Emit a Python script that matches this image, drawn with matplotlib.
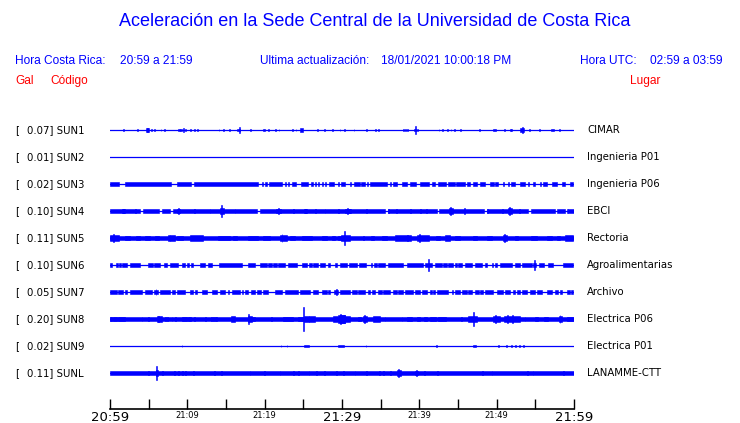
import matplotlib.pyplot as plt
from matplotlib.transforms import blended_transform_factory

# estaciones (de arriba hacia abajo)
codes = ['SUN1', 'SUN2', 'SUN3', 'SUN4', 'SUN5', 'SUN6', 'SUN7', 'SUN8', 'SUN9', 'SUNL']
peaks = [0.07, 0.01, 0.02, 0.10, 0.11, 0.10, 0.05, 0.20, 0.02, 0.11]
places = ['CIMAR', 'Ingenieria P01', 'Ingenieria P06', 'EBCI', 'Rectoria',
          'Agroalimentarias', 'Archivo', 'Electrica P06', 'Electrica P01', 'LANAMME-CTT']

# envolventes: (min inicio, min fin, amplitud Gal); minutos desde 20:59
sun1 = [(1.65, 1.8, 0.012), (3.5, 3.65, 0.012), (4.6, 5.0, 0.025), (4.78, 4.9, 0.035), (5.35, 5.45, 0.012),
        (5.75, 5.85, 0.012), (6.55, 6.65, 0.012), (6.95, 7.05, 0.012), (8.85, 9.0, 0.015), (9.1, 9.25, 0.015),
        (9.45, 9.55, 0.035), (9.72, 9.82, 0.012), (10.4, 10.5, 0.012), (10.9, 11.05, 0.015), (11.3, 11.4, 0.012),
        (14.05, 14.15, 0.012), (14.6, 14.7, 0.012), (15.4, 15.5, 0.01), (16.4, 16.8, 0.02), (16.68, 16.78, 0.05),
        (18.1, 18.25, 0.015), (19.8, 20.1, 0.022), (20.45, 20.55, 0.012), (21.4, 21.5, 0.012), (21.8, 21.9, 0.012),
        (23.55, 23.65, 0.012), (24.0, 24.1, 0.012), (24.6, 25.0, 0.03), (26.8, 26.9, 0.012), (27.7, 27.8, 0.012),
        (28.75, 28.85, 0.012), (29.7, 29.8, 0.012), (30.25, 30.35, 0.012), (31.5, 31.6, 0.01), (33.15, 33.25, 0.012),
        (34.3, 34.4, 0.015), (34.65, 34.75, 0.01), (37.9, 38.0, 0.015), (38.15, 38.25, 0.015), (38.45, 38.55, 0.015),
        (39.3, 39.6, 0.02), (39.45, 39.55, 0.07), (39.7, 39.8, 0.015), (42.5, 42.6, 0.012), (42.95, 43.05, 0.012),
        (43.55, 43.65, 0.012), (44.05, 44.15, 0.012), (44.5, 44.6, 0.01), (45.3, 45.4, 0.01), (47.7, 47.8, 0.01),
        (49.55, 49.85, 0.022), (50.95, 51.05, 0.012), (51.7, 51.8, 0.012), (51.9, 52.0, 0.015), (53.0, 53.5, 0.025),
        (53.25, 53.35, 0.045), (54.2, 54.3, 0.012), (55.5, 55.6, 0.01), (57.0, 57.35, 0.022), (58.05, 58.15, 0.015)]

sun2 = []

sun3 = [(0, 1.2, 0.026), (2.0, 7.9, 0.026), (8.7, 10.5, 0.026), (10.8, 19.2, 0.026), (19.6, 19.8, 0.026),
        (20.1, 20.3, 0.026), (20.5, 22.2, 0.026), (22.6, 22.8, 0.026), (23.0, 23.2, 0.026), (23.5, 24.1, 0.026),
        (24.7, 25.6, 0.026), (26.0, 26.2, 0.026), (26.5, 26.6, 0.026), (26.9, 27.0, 0.026), (27.4, 27.5, 0.026),
        (27.8, 27.9, 0.026), (28.3, 29.0, 0.026), (29.5, 29.6, 0.026), (29.9, 30.4, 0.026), (31.0, 31.1, 0.026),
        (31.5, 32.3, 0.026), (32.5, 33.0, 0.026), (33.2, 33.3, 0.026), (33.6, 35.8, 0.026), (36.2, 36.3, 0.026),
        (36.6, 37.1, 0.026), (37.7, 38.4, 0.026), (38.8, 39.6, 0.026), (40.1, 41.2, 0.026), (41.7, 42.0, 0.026),
        (42.4, 43.5, 0.026), (43.7, 44.6, 0.026), (44.8, 45.9, 0.026), (46.1, 46.5, 0.026), (47.0, 47.4, 0.026),
        (47.8, 48.5, 0.026), (49.1, 49.6, 0.026), (49.8, 50.2, 0.026), (50.8, 50.9, 0.026), (51.5, 51.6, 0.026),
        (51.9, 52.4, 0.026), (53.0, 53.7, 0.026), (54.1, 54.2, 0.026), (54.7, 55.0, 0.026), (55.6, 55.7, 0.026),
        (56.0, 56.5, 0.026), (57.1, 57.8, 0.026), (58.4, 58.8, 0.026), (59.5, 59.9, 0.026)]

sun4 = [(0, 3.9, 0.03), (4.3, 6.4, 0.03), (6.7, 7.7, 0.03), (8.1, 19.0, 0.03), (19.4, 35.6, 0.03),
        (35.9, 42.3, 0.03), (42.6, 48.3, 0.03), (48.7, 54.0, 0.03), (54.4, 57.5, 0.03), (57.8, 58.9, 0.03),
        (59.2, 60, 0.03),
        (1.5, 2.0, 0.036), (8.6, 9.1, 0.04), (14.2, 14.7, 0.045), (21.5, 22.1, 0.04), (25.1, 25.5, 0.036),
        (30.4, 31.2, 0.04), (43.8, 44.3, 0.045), (51.5, 52.0, 0.045),
        (1.66, 1.78, 0.038), (3.26, 3.38, 0.036), (8.78, 8.9, 0.046), (10.85, 10.97, 0.034), (12.87, 12.99, 0.034),
        (14.34, 14.46, 0.10), (16.1, 16.22, 0.033), (21.71, 21.83, 0.05), (23.65, 23.77, 0.04), (25.24, 25.36, 0.038),
        (26.53, 26.65, 0.036), (27.74, 27.86, 0.034), (29.47, 29.59, 0.034), (30.64, 30.76, 0.05), (30.94, 31.06, 0.04),
        (33.13, 33.25, 0.033), (35.94, 36.06, 0.033), (36.94, 37.06, 0.04), (38.84, 38.96, 0.034), (40.04, 40.16, 0.033),
        (40.84, 40.96, 0.033), (43.94, 44.06, 0.06), (45.84, 45.96, 0.05), (48.74, 48.86, 0.033), (50.64, 50.76, 0.034),
        (51.64, 51.76, 0.065), (52.94, 53.06, 0.034), (59.04, 59.16, 0.033)]

sun5 = [(0, 60, 0.033),
        (0, 1.1, 0.048), (0.4, 0.5, 0.06), (1.9, 2.6, 0.04), (3.4, 3.9, 0.04), (4.5, 5.2, 0.04),
        (5.8, 6.3, 0.04), (7.5, 8.4, 0.044), (7.7, 7.8, 0.055), (8.6, 9.5, 0.04), (10.3, 12.0, 0.042),
        (14.0, 15.5, 0.04), (15.95, 16.4, 0.04), (17.9, 19.2, 0.04), (19.8, 20.7, 0.04), (22.0, 22.85, 0.048),
        (22.2, 22.3, 0.07), (23.3, 23.9, 0.04), (24.8, 26.1, 0.04), (27.4, 28.0, 0.04), (28.7, 29.1, 0.04),
        (29.5, 30.4, 0.04), (29.9, 31.0, 0.044), (30.25, 30.4, 0.11), (32.7, 32.9, 0.04), (33.8, 34.2, 0.04),
        (35.2, 35.8, 0.04), (36.9, 38.9, 0.044), (38.4, 38.5, 0.055), (39.65, 41.2, 0.044), (40.0, 40.1, 0.06),
        (42.2, 42.7, 0.04), (43.3, 44.0, 0.044), (44.6, 45.3, 0.04), (47.0, 47.4, 0.04), (48.7, 49.4, 0.04),
        (50.8, 51.3, 0.044), (51.0, 51.1, 0.06), (52.4, 52.8, 0.04), (54.5, 55.2, 0.04), (56.5, 57.1, 0.04),
        (57.75, 58.2, 0.04), (58.8, 59.9, 0.042)]

sun6 = [(0, 0.22, 0.025), (0.73, 0.99, 0.025), (1.16, 1.42, 0.025), (1.59, 2.15, 0.03), (2.59, 3.88, 0.025),
        (4.96, 5.60, 0.025), (5.73, 6.47, 0.025), (7.03, 7.33, 0.035), (7.76, 8.84, 0.025), (9.35, 9.70, 0.025),
        (9.91, 10.22, 0.025), (10.47, 10.78, 0.025), (11.64, 12.29, 0.04), (12.72, 13.15, 0.025),
        (14.10, 17.03, 0.025), (17.89, 18.75, 0.025), (19.40, 20.26, 0.025), (20.48, 20.91, 0.025),
        (21.12, 21.55, 0.025), (21.77, 22.63, 0.032), (23.06, 24.14, 0.025), (24.78, 25.43, 0.025),
        (25.73, 26.07, 0.025), (26.29, 26.94, 0.025), (27.16, 27.80, 0.025), (28.23, 28.45, 0.025),
        (29.1, 29.3, 0.025), (29.74, 30.60, 0.025), (30.91, 31.90, 0.025), (32.20, 33.10, 0.025),
        (33.80, 33.90, 0.025), (34.18, 34.48, 0.025), (34.70, 35.56, 0.032), (35.99, 37.93, 0.025),
        (38.36, 40.51, 0.025), (40.73, 41.59, 0.037), (41.1, 41.2, 0.10), (42.02, 42.89, 0.025),
        (43.10, 43.53, 0.025), (43.75, 44.40, 0.025), (44.61, 44.83, 0.025), (45.04, 45.47, 0.025),
        (45.90, 46.77, 0.025), (47.20, 48.06, 0.025), (48.49, 48.71, 0.025), (49.35, 49.57, 0.025),
        (49.78, 50.00, 0.025), (50.43, 51.94, 0.025), (52.37, 53.02, 0.025), (53.23, 54.53, 0.025),
        (54.74, 55.09, 0.032), (54.82, 54.92, 0.085), (55.52, 56.12, 0.025), (56.68, 57.33, 0.025),
        (58.62, 59.91, 0.025)]

sun7 = [(0, 0.86, 0.03), (1.08, 1.72, 0.025), (1.94, 2.15, 0.025), (2.59, 4.09, 0.025), (4.53, 5.39, 0.025),
        (5.73, 6.25, 0.025), (5.9, 6.0, 0.045), (6.47, 7.76, 0.025), (7.97, 8.41, 0.025), (8.62, 9.70, 0.025),
        (10.35, 10.78, 0.03), (10.99, 11.21, 0.025), (11.85, 12.5, 0.033), (13.15, 13.79, 0.025),
        (14.22, 14.87, 0.03), (15.2, 15.4, 0.025), (15.73, 16.81, 0.025), (17.03, 17.24, 0.025),
        (17.46, 17.89, 0.025), (18.23, 18.75, 0.025), (18.97, 19.53, 0.025), (19.83, 20.48, 0.025),
        (21.34, 22.20, 0.035), (22.63, 24.35, 0.025), (24.57, 25.86, 0.025), (26.29, 26.94, 0.03),
        (27.37, 28.02, 0.025), (28.23, 28.45, 0.025), (29.0, 29.44, 0.03), (29.2, 29.3, 0.05),
        (29.74, 31.03, 0.025), (31.25, 31.90, 0.025), (32.1, 32.97, 0.025), (33.4, 33.6, 0.025),
        (33.84, 34.26, 0.025), (34.70, 35.13, 0.025), (35.34, 36.20, 0.025), (36.63, 37.06, 0.025),
        (37.28, 37.93, 0.025), (38.15, 39.22, 0.025), (39.44, 40.08, 0.025), (40.30, 41.03, 0.025),
        (41.38, 41.59, 0.025), (41.81, 42.02, 0.025), (42.24, 43.75, 0.025), (44.18, 44.40, 0.025),
        (44.61, 45.26, 0.025), (45.47, 46.12, 0.025), (46.34, 46.77, 0.025), (47.20, 47.76, 0.025),
        (47.85, 48.28, 0.025), (48.49, 49.57, 0.025), (50.00, 50.86, 0.025), (51.08, 51.72, 0.025),
        (52.15, 52.37, 0.025), (52.58, 53.02, 0.025), (53.23, 53.88, 0.025), (54.31, 54.96, 0.025),
        (55.17, 55.82, 0.025), (56.47, 57.11, 0.025), (57.54, 57.97, 0.025), (58.19, 58.49, 0.025),
        (59.05, 59.48, 0.025), (59.61, 59.91, 0.025)]

sun8 = [(0, 60, 0.03),
        (0, 0.3, 0.038), (0.4, 0.86, 0.034), (1.08, 1.94, 0.038), (4.1, 4.2, 0.034), (4.96, 5.06, 0.034),
        (6.03, 6.68, 0.05), (6.2, 6.3, 0.056), (7.1, 7.2, 0.034), (7.33, 7.55, 0.034), (7.97, 8.07, 0.034),
        (8.41, 8.5, 0.034), (9.27, 9.91, 0.036), (10.13, 10.47, 0.034), (10.91, 11.0, 0.034), (12.29, 12.39, 0.034),
        (13.06, 13.16, 0.034), (13.36, 13.46, 0.034), (13.58, 13.79, 0.034), (15.64, 16.16, 0.05),
        (17.80, 18.32, 0.05), (17.9, 18.0, 0.077), (18.32, 18.75, 0.038), (20.8, 20.9, 0.034), (22.4, 23.7, 0.038),
        (24.35, 25.0, 0.038), (25.0, 25.12, 0.20), (25.1, 25.7, 0.055), (25.7, 26.5, 0.042), (28.9, 29.5, 0.045),
        (29.5, 30.4, 0.06), (29.8, 29.9, 0.08), (29.74, 30.4, 0.07), (30.4, 31.0, 0.042), (32.1, 32.5, 0.038),
        (32.7, 33.2, 0.05), (32.9, 33.0, 0.07), (34.0, 34.9, 0.045), (35.5, 35.6, 0.034), (37.7, 37.8, 0.034),
        (38.36, 39.0, 0.036), (39.65, 40.08, 0.036), (40.6, 41.0, 0.036), (41.4, 42.2, 0.036),
        (42.45, 43.5, 0.038), (45.4, 45.5, 0.034), (46.3, 47.4, 0.045), (46.95, 47.05, 0.11), (49.5, 50.4, 0.05),
        (49.8, 49.9, 0.06), (50.9, 53.0, 0.055), (51.4, 51.5, 0.07), (52.0, 52.1, 0.07), (53.6, 53.7, 0.034),
        (54.95, 55.4, 0.036), (56.1, 56.7, 0.036), (58.0, 58.4, 0.045), (58.15, 58.25, 0.06), (59.05, 59.91, 0.038)]

sun9 = [(9.25, 9.35, 0.01), (19.95, 20.05, 0.008), (22.05, 22.15, 0.013), (22.85, 22.95, 0.01),
        (25.1, 25.7, 0.02), (29.5, 30.3, 0.018), (33.05, 33.15, 0.01), (42.15, 42.25, 0.01), (47.0, 47.3, 0.02),
        (50.15, 50.25, 0.01), (51.25, 51.35, 0.01), (51.85, 51.95, 0.015), (52.35, 52.45, 0.01),
        (52.95, 53.05, 0.01), (53.45, 53.55, 0.01)]

sunl = [(0, 60, 0.032),
        (5.9, 6.2, 0.045), (5.97, 6.09, 0.11), (4.9, 5.02, 0.04), (6.71, 6.83, 0.037), (8.26, 8.38, 0.036),
        (8.78, 8.9, 0.036), (9.29, 9.41, 0.036), (9.72, 9.84, 0.036), (10.72, 10.84, 0.04), (13.43, 13.55, 0.036),
        (14.3, 14.42, 0.04), (18.04, 18.16, 0.04), (19.9, 20.02, 0.036), (21.92, 22.04, 0.036),
        (23.65, 23.77, 0.04), (24.29, 24.41, 0.036), (25.67, 25.79, 0.036), (26.66, 26.78, 0.04),
        (27.65, 27.77, 0.036), (29.25, 29.37, 0.036), (30.11, 30.23, 0.038), (31.62, 31.74, 0.036),
        (33.13, 33.25, 0.04), (34.76, 34.88, 0.036), (35.28, 35.4, 0.036), (36.2, 36.4, 0.038),
        (37.1, 37.6, 0.045), (37.29, 37.41, 0.06), (39.4, 39.8, 0.04), (39.54, 39.66, 0.047),
        (40.64, 40.76, 0.036), (42.34, 42.46, 0.036), (48.14, 48.26, 0.038), (49.34, 49.46, 0.038),
        (53.94, 54.06, 0.038), (54.64, 54.76, 0.036), (58.64, 58.76, 0.036)]

traces = [sun1, sun2, sun3, sun4, sun5, sun6, sun7, sun8, sun9, sunl]

BLUE = '#0000ff'
RED = '#ff0000'
W, H = 740, 423

fig = plt.figure(figsize=(W / 100, H / 100), dpi=100)


def ftext(x, y, s, **kw):
    # texto en coordenadas de pixel de la figura
    fig.text(x / W, 1 - y / H, s, va='center', **kw)


hdr = dict(fontsize=8.6, family='Liberation Sans')
ftext(375, 22, 'Aceleración en la Sede Central de la Universidad de Costa Rica',
      ha='center', fontsize=13, color=BLUE, family='Liberation Sans')
ftext(15, 61, 'Hora Costa Rica:', color=BLUE, **hdr)
ftext(120, 61, '20:59 a 21:59', color=BLUE, **hdr)
ftext(260, 61, 'Ultima actualización:', color=BLUE, **hdr)
ftext(381, 61, '18/01/2021 10:00:18 PM', color=BLUE, **hdr)
ftext(580, 61, 'Hora UTC:', color=BLUE, **hdr)
ftext(650, 61, '02:59 a 03:59', color=BLUE, **hdr)
ftext(15, 81, 'Gal', color=RED, **hdr)
ftext(50, 81, 'Código', color=RED, **hdr)
ftext(630, 81, 'Lugar', color=RED, **hdr)

# eje de trazas: x en minutos, y en Gal (61 px por Gal)
gain = 61.0
gap = 27 / gain
ax = fig.add_axes([110 / W, 1 - 409 / H, 464 / W, 299 / H])
ax.set_xlim(0, 60)
ax.set_ylim(-(409 - 130) / gain, 20 / gain)

trans = blended_transform_factory(fig.transFigure, ax.transData)
for i, segs in enumerate(traces):
    yc = -i * gap
    ax.plot([0, 60], [yc, yc], color=BLUE, lw=0.9)
    if segs:
        t0 = [s[0] for s in segs]
        wd = [s[1] - s[0] for s in segs]
        amp = [s[2] for s in segs]
        ax.bar(t0, [2 * a for a in amp], width=wd, bottom=[yc - a for a in amp],
               align='edge', color=BLUE, linewidth=0.4, edgecolor=BLUE)
    ax.text(15 / W, yc, '[', transform=trans, va='center', fontsize=7.3)
    ax.text(27 / W, yc, f'{peaks[i]:.2f}] {codes[i]}', transform=trans, va='center', fontsize=7.3)
    ax.text(587 / W, yc, places[i], transform=trans, va='center', fontsize=7.3)

# eje de tiempo
for side in ['top', 'left', 'right']:
    ax.spines[side].set_visible(False)
ax.spines['bottom'].set_linewidth(1.2)
ticks = list(range(0, 61, 5))
labels = []
for m in ticks:
    hh, mm = divmod(20 * 60 + 59 + m, 60)
    labels.append(f'{hh}:{mm:02d}' if m % 10 == 0 else '')
ax.set_xticks(ticks, labels)
ax.set_yticks([])
ax.tick_params(axis='x', direction='in', length=7.5, width=1, pad=1.5)
for m, lab in zip(ticks, ax.get_xticklabels()):
    lab.set_fontsize(9.5 if m % 30 == 0 else 6)

fig.savefig('out.png', dpi=100)
